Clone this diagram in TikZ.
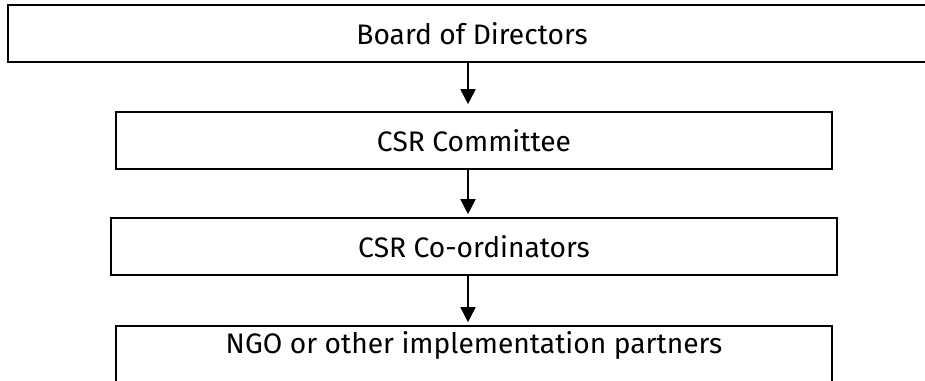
\documentclass[tikz,border=0pt]{standalone}
\usepackage{fontspec}
\setmainfont{Fira Sans}
\usetikzlibrary{shapes, arrows, arrows.meta}

\begin{document}
\begin{tikzpicture}[x=1pt, y=-1pt,
        box/.style={draw, line width=1.6pt, rectangle, minimum height=57pt, inner sep=0pt, font=\fontsize{28.2}{34}\selectfont},
        >={Triangle[length=15pt, width=15pt]}]
            \useasboundingbox (0, 0) rectangle (925, 380);
            \node[box, minimum width=928pt] (n0) at (472, 33.5) {Board of Directors};
            \node[box, minimum width=716pt] (n1) at (474, 140.5) {CSR Committee};
            \node[box, minimum width=726pt] (n2) at (474, 246.5) {CSR Co-ordinators};
            \node[box, minimum width=716pt, minimum height=64pt, text height=18pt, text depth=28pt] (n3) at (474, 358) {NGO or other implementation partners};
            \coordinate (ax) at (468, 0);
            
            \draw[->, line width=1.6pt] (n0.south -| ax) -- ([yshift=7pt]n1.north -| ax);
            \draw[->, line width=1.6pt] (n1.south -| ax) -- ([yshift=3pt]n2.north -| ax);
            \draw[->, line width=1.6pt] (n2.south -| ax) -- ([yshift=3pt]n3.north -| ax);
    	\end{tikzpicture}
\end{document}
